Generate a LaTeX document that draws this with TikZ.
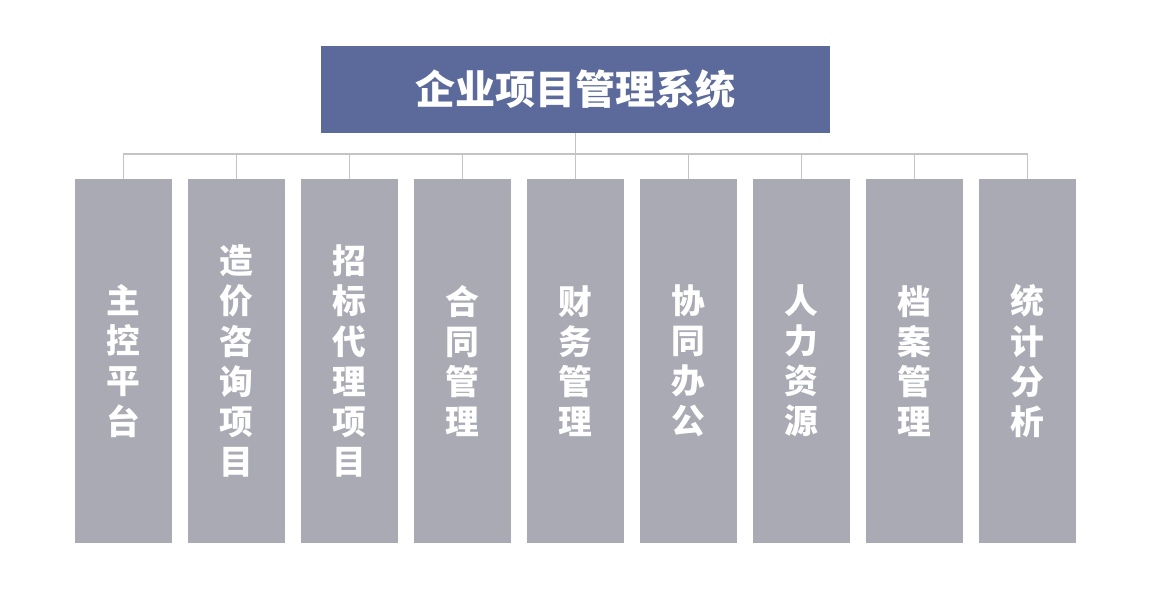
\documentclass[tikz,border=0pt]{standalone}
\usepackage{fontspec}
\newfontfamily\cjk{Noto Sans CJK SC}
\usetikzlibrary{positioning}
\definecolor{topblue}{HTML}{5B6A9A}
\definecolor{boxgray}{HTML}{A9AAB4}
\definecolor{linegray}{HTML}{C4C4C4}
\tikzset{title/.style={fill=topblue, text=white, minimum width=12.725cm, minimum height=2.175cm, inner sep=0pt, outer sep=0pt, font=\cjk\bfseries\fontsize{28.5}{30}\selectfont}}
\tikzset{modbox/.style={fill=boxgray, text=white, minimum width=2.425cm, minimum height=9.1cm, inner sep=0pt, outer sep=0pt, align=center, font=\cjk\bfseries\fontsize{24}{28.5}\selectfont}}
\tikzset{link/.style={draw=linegray, line width=1.4pt}}

\begin{document}
\begin{tikzpicture}
\useasboundingbox (0,0) rectangle (28.9,-14.775);
\node (sys) [title] at (14.3875,-2.2375) {企业项目管理系统};
\node (m1) [modbox] at (3.0875,-9.025) {主\\控\\平\\台};
\node (m2) [modbox, right = 0.4 of m1] {造\\价\\咨\\询\\项\\目};
\node (m3) [modbox, right = 0.4 of m2] {招\\标\\代\\理\\项\\目};
\node (m4) [modbox, right = 0.4 of m3] {合\\同\\管\\理};
\node (m5) [modbox, right = 0.4 of m4] {财\\务\\管\\理};
\node (m6) [modbox, right = 0.4 of m5] {协\\同\\办\\公};
\node (m7) [modbox, right = 0.4 of m6] {人\\力\\资\\源};
\node (m8) [modbox, right = 0.4 of m7] {档\\案\\管\\理};
\node (m9) [modbox, right = 0.4 of m8] {统\\计\\分\\析};

\coordinate (bus) at (14.3875,-3.85);
\draw[link] (sys.south) -- (bus);
\draw[link] (m1.north) -- (m1.north |- bus) -- (m9.north |- bus) -- (m9.north);
\draw[link] (m2.north) -- (m2.north |- bus);
\draw[link] (m3.north) -- (m3.north |- bus);
\draw[link] (m4.north) -- (m4.north |- bus);
\draw[link] (m5.north) -- (m5.north |- bus);
\draw[link] (m6.north) -- (m6.north |- bus);
\draw[link] (m7.north) -- (m7.north |- bus);
\draw[link] (m8.north) -- (m8.north |- bus);
\end{tikzpicture}
\end{document}
